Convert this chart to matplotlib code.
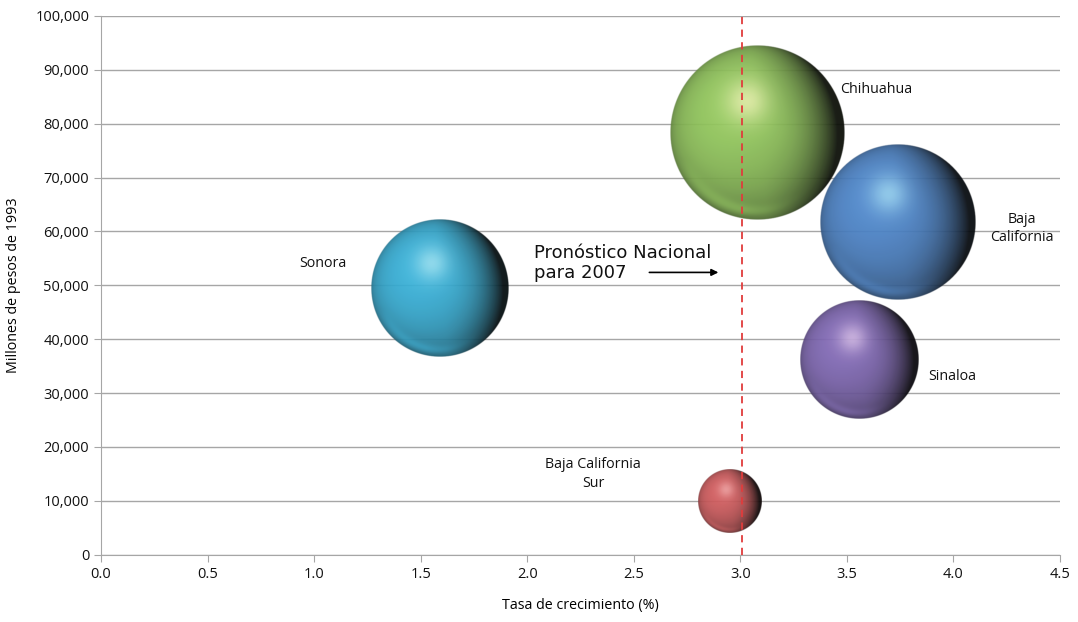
import numpy as np
import matplotlib
matplotlib.use("Agg")
import matplotlib.pyplot as plt
from matplotlib.ticker import FuncFormatter, MultipleLocator

estados = ["Chihuahua", "Baja\nCalifornia", "Sonora", "Sinaloa", "Baja California\nSur"]
tasa = [3.08, 3.74, 1.59, 3.56, 2.95]
pib = [78300, 61700, 49500, 36300, 10000]
tamano = [7.6, 6.0, 4.7, 3.5, 1.0]
colores = ["#8cbf58", "#4a80c2", "#35a9cf", "#7b64ad", "#c8585a"]
destellos = ["#f4f4b8", "#a2def4", "#a8e6f2", "#dcc2e8", "#f0a8a8"]

pronostico = 3.01

# label offsets (data units) and alignment per state
etiqueta_pos = [(3.47, 86300, "left"), (4.32, 60500, "center"), (1.04, 54000, "center"),
                (3.88, 33000, "left"), (2.31, 15000, "center")]

R_MAX = 87.5  # radius in pixels of the largest bubble


def esfera(base, brillo, n=420):
    u = np.linspace(-1, 1, n)
    X, Y = np.meshgrid(u, -u)
    rr = np.sqrt(X ** 2 + Y ** 2)
    Z = np.sqrt(np.clip(1 - rr ** 2, 0, 1))
    L = np.array([-0.3, 0.3, 0.9])
    L = L / np.linalg.norm(L)
    diff = np.clip(X * L[0] + Y * L[1] + Z * L[2], 0, 1)
    base = np.array(matplotlib.colors.to_rgb(base))
    brillo = np.array(matplotlib.colors.to_rgb(brillo))
    col = base[None, None, :] * (0.6 + 0.45 * diff[..., None])
    # soft highlight above centre
    spec = np.exp(-((X + 0.12) ** 2 + (Y - 0.36) ** 2) / 0.06)
    col = col * (1 - 0.7 * spec[..., None]) + brillo * 0.7 * spec[..., None]
    # light reflection band along the lower rim
    rim = np.exp(-((rr - 0.9) ** 2) / 0.005) * np.clip(-Y - 0.3, 0, 1) * np.clip(0.8 - X, 0, 1)
    col = col + base * 0.35 * rim[..., None]
    # dark crescent on the right side, following the outline
    dark = np.clip(X + 0.1 * Y, 0, 1) ** 1.4 * (1 - Z) ** 0.7 * 1.35
    dark = dark + (1 - Z) ** 3 * 0.2
    col = col * (1 - np.clip(dark, 0, 0.88)[..., None])
    col = np.clip(col, 0, 1)
    alpha = np.clip((1 - rr) * n / 2.5, 0, 1) * 0.94
    return np.dstack([col, alpha])


fig = plt.figure(figsize=(10.78, 6.22), dpi=100)
ax = fig.add_axes([0.0937, 0.1082, 0.8896, 0.8661])

ax.set_xlim(0, 4.5)
ax.set_ylim(0, 100000)
ax.xaxis.set_major_locator(MultipleLocator(0.5))
ax.yaxis.set_major_locator(MultipleLocator(10000))
ax.xaxis.set_major_formatter(FuncFormatter(lambda v, p: f"{v:.1f}"))
ax.yaxis.set_major_formatter(FuncFormatter(lambda v, p: f"{v:,.0f}"))

ax.grid(axis="y", color="#a6a6a6", linewidth=1.0, zorder=0)
ax.set_axisbelow(True)
for s in ["top", "right"]:
    ax.spines[s].set_visible(False)
for s in ["left", "bottom"]:
    ax.spines[s].set_color("#a6a6a6")
ax.tick_params(direction="out", length=5, color="#a6a6a6", labelsize=10.5, labelcolor="#111111")
for lbl in ax.get_xticklabels() + ax.get_yticklabels():
    lbl.set_fontfamily("Open Sans")

ax.set_xlabel("Tasa de crecimiento (%)", fontsize=10.3, family="Open Sans", labelpad=12)
ax.set_ylabel("Millones de pesos de 1993", fontsize=10.3, family="Open Sans", labelpad=10)

# bubbles: place rendered spheres around each data point
fig.canvas.draw()
inv = ax.transData.inverted()
for i in range(len(estados)):
    r = R_MAX * np.sqrt(tamano[i] / max(tamano))
    cx, cy = ax.transData.transform((tasa[i], pib[i]))
    x0, y0 = inv.transform((cx - r, cy - r))
    x1, y1 = inv.transform((cx + r, cy + r))
    ax.imshow(esfera(colores[i], destellos[i]), extent=(x0, x1, y0, y1),
              aspect="auto", zorder=3, interpolation="bilinear")
ax.set_xlim(0, 4.5)
ax.set_ylim(0, 100000)

for (tx, ty, ha), nombre in zip(etiqueta_pos, estados):
    ax.text(tx, ty, nombre, ha=ha, va="center", fontsize=10.3, family="Open Sans",
            color="#111111", linespacing=1.3, zorder=5)

ax.axvline(pronostico, color="#e03c3c", linestyle=(0, (4, 3)), linewidth=1.3, zorder=4)
ax.text(2.03, 54100, "Pronóstico Nacional\npara 2007", fontsize=13, family="DejaVu Sans",
        ha="left", va="center", linespacing=1.12, color="#111111", zorder=5)
ax.annotate("", xy=(2.91, 52400), xytext=(2.56, 52400),
            arrowprops=dict(arrowstyle="-|>", color="black", lw=1.2, mutation_scale=10), zorder=5)

fig.savefig("out.png", dpi=100)
